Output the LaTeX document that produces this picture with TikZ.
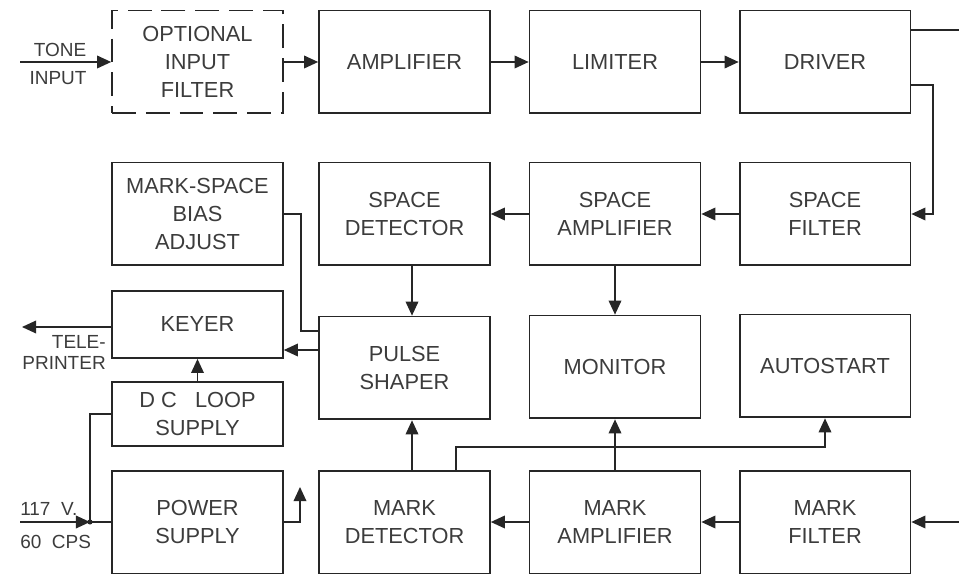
\documentclass[tikz,border=0pt]{standalone}
\usepackage{fontspec}
\setmainfont{Liberation Sans}
\usepackage{xcolor}
\definecolor{inkline}{RGB}{38,38,38}
\definecolor{inktext}{RGB}{60,60,60}
\usetikzlibrary{arrows.meta, positioning}

\begin{document}
\begin{tikzpicture}[x=0.025cm, y=-0.025cm,
  blk/.style={draw=inkline, line width=1.3pt, minimum width=4.27cm, minimum height=2.57cm,
              align=center, text=inktext, font=\fontsize{15.5}{20}\selectfont, inner sep=2pt},
  lnk/.style={draw=inkline, line width=1pt},
  arr/.style={-{Triangle[length=10pt,width=9pt]}},
  lbl/.style={text=inktext, font=\fontsize{13.5}{15}\selectfont, inner sep=0pt}]
  \useasboundingbox (0,0) rectangle (959,576);

  % Top row
  \node[blk, dash pattern=on 17pt off 7pt] (filt) at (197.5,62) {OPTIONAL\\INPUT\\FILTER};
  \node[blk] (amp) at (404.5,62) {AMPLIFIER};
  \node[blk] (lim) at (615,62) {LIMITER};
  \node[blk] (drv) at (825,62) {DRIVER};

  % Space channel
  \node[blk] (bias) at (197.5,214) {MARK-SPACE\\BIAS\\ADJUST};
  \node[blk] (sdet) at (404.5,214) {SPACE\\DETECTOR};
  \node[blk] (samp) at (615,214) {SPACE\\AMPLIFIER};
  \node[blk] (sfil) at (825,214) {SPACE\\FILTER};

  % Middle
  \node[blk, minimum height=1.675cm] (key) at (197.5,324.5) {KEYER};
  \node[blk, minimum height=1.6cm] (dcl) at (197.5,414) {D C\ \ \ LOOP\\SUPPLY};
  \node[blk] (pls) at (404.5,368) {PULSE\\SHAPER};
  \node[blk] (mon) at (615,367) {MONITOR};
  \node[blk] (ast) at (825,366) {AUTOSTART};

  % Mark channel
  \node[blk] (psu) at (197.5,522) {POWER\\SUPPLY};
  \node[blk] (mdet) at (404.5,522) {MARK\\DETECTOR};
  \node[blk] (mamp) at (615,522) {MARK\\AMPLIFIER};
  \node[blk] (mfil) at (825,522) {MARK\\FILTER};

  % Outside labels
  \node[lbl] (tonelbl) at (60,50) {TONE};
  \node[lbl] (inputlbl) at (58,78) {INPUT};
  \node[lbl, align=right, anchor=north east] (telelbl) at (106,335) {TELE-\\PRINTER};
  \node[lbl, anchor=west] (voltlbl) at (20,509) {117\ \ V.};
  \node[lbl, anchor=west] (freqlbl) at (20,542) {60\ \ CPS};

  % Free ends and bends
  \coordinate (tonein) at (20,62);
  \coordinate (drvout) at (959,30);
  \coordinate (drvbend) at (933,85);
  \coordinate (pcol) at (412,0);
  \coordinate (biasin) at (301,331);
  \coordinate (keyin) at (300,350);
  \coordinate (tele) at (22,327);
  \coordinate (jn) at (90,522);
  \coordinate (mains) at (20,522);
  \coordinate (psout) at (300,487);
  \coordinate (tap) at (456,447);
  \coordinate (markin) at (959,522);

  % Signal chain
  \draw[lnk, arr] (tonein) -- (filt.west);
  \draw[lnk, arr] (filt) -- (amp);
  \draw[lnk, arr] (amp) -- (lim);
  \draw[lnk, arr] (lim) -- (drv);
  \draw[lnk] (drvout -| drv.east) -- (drvout);
  \draw[lnk, arr] (drvbend -| drv.east) -- (drvbend) |- (sfil.east);
  \draw[lnk, arr] (sfil) -- (samp);
  \draw[lnk, arr] (samp) -- (sdet);
  \draw[lnk, arr] (samp) -- (mon);
  \draw[lnk, arr] (pcol |- sdet.south) -- (pcol |- pls.north);
  \draw[lnk] (bias.east) -| (biasin) -- (biasin -| pls.west);
  \draw[lnk, arr] (keyin -| pls.west) -- (keyin -| key.east);
  \draw[lnk, arr] (tele -| key.west) -- (tele);
  \draw[lnk, arr] (dcl) -- (key);

  % Power
  \draw[lnk] (dcl.west) -| (jn) -- (psu.west);
  \draw[lnk, arr] (mains) -- (jn);
  \fill[inkline] (jn) circle (1.8pt);
  \draw[lnk, arr] (psu.east) -| (psout);

  % Mark side
  \draw[lnk, arr] (markin) -- (mfil.east);
  \draw[lnk, arr] (mfil) -- (mamp);
  \draw[lnk, arr] (mamp) -- (mdet);
  \draw[lnk, arr] (mamp) -- (mon);
  \draw[lnk, arr] (pcol |- mdet.north) -- (pcol |- pls.south);
  \draw[lnk, arr] (tap |- mdet.north) -- (tap) -| (ast.south);
\end{tikzpicture}
\end{document}
